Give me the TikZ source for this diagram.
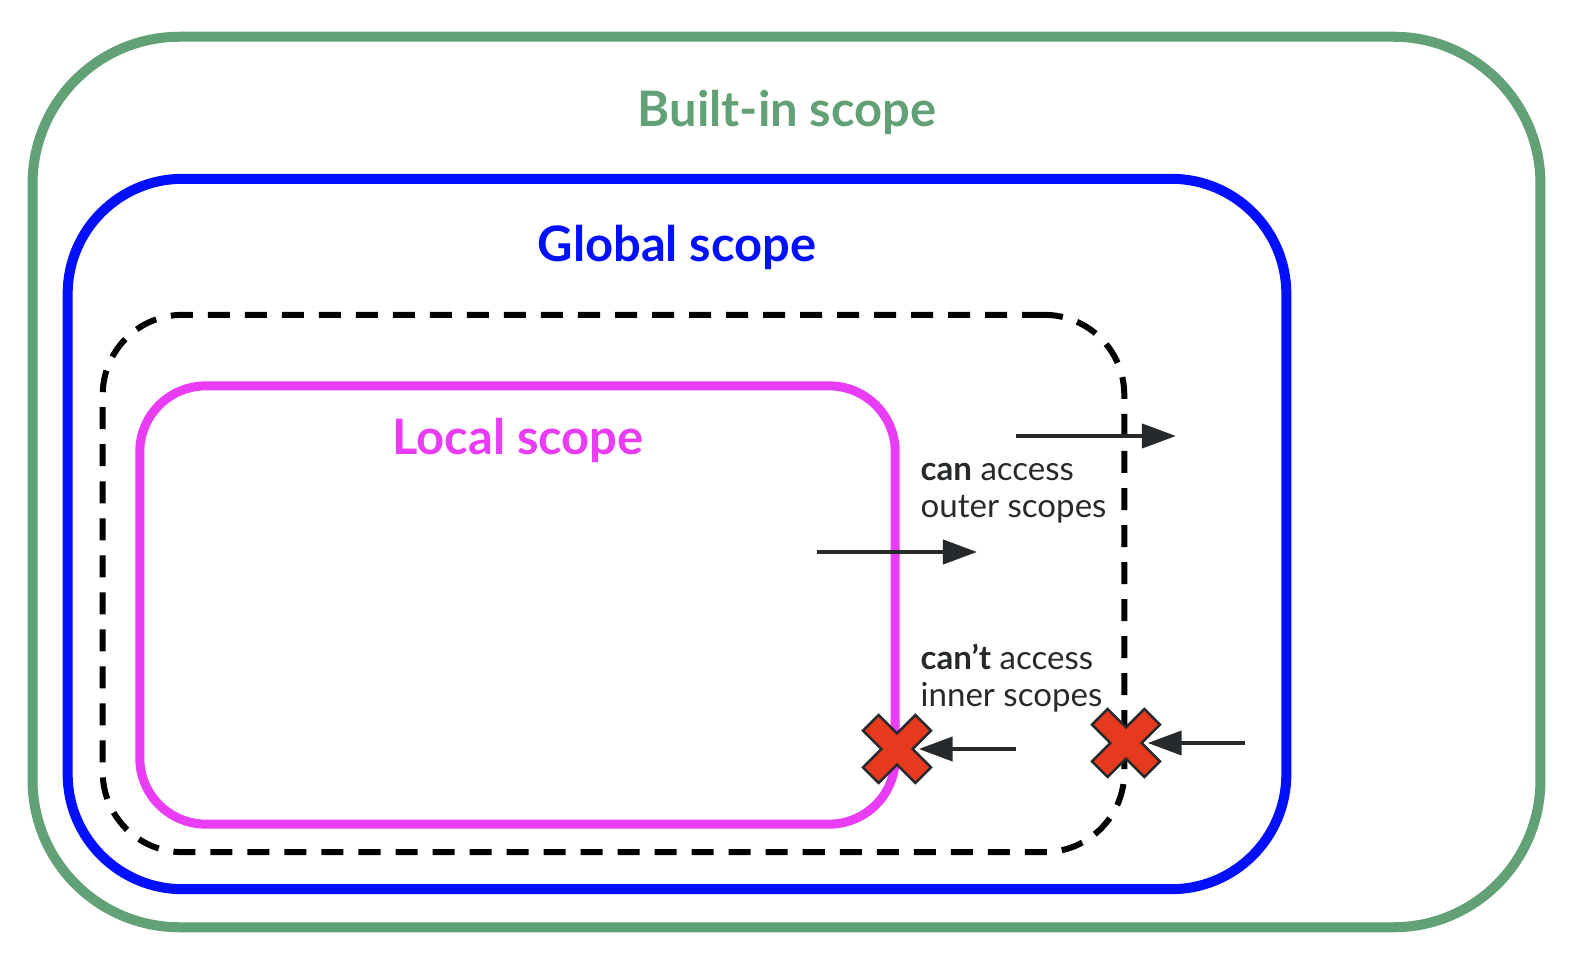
\documentclass[tikz,border=0pt]{standalone}
\usepackage{fontspec}
\setmainfont{Lato}
\usetikzlibrary{positioning,arrows.meta}
\definecolor{builtin}{RGB}{98,160,117}
\definecolor{global}{RGB}{0,16,255}
\definecolor{local}{RGB}{233,60,245}
\definecolor{xred}{RGB}{230,58,30}
\definecolor{dark}{RGB}{38,42,44}
\tikzset{
scopebox/.style={
rectangle,
inner sep=0pt},
title/.style={
font={\fontsize{13.9pt}{16pt}\selectfont\bfseries},inner sep=0pt},
note/.style={
font={\fontsize{9.4pt}{10.5pt}\selectfont},text=dark,align=left,inner sep=0pt},
arr/.style={-{Triangle[length=0.34cm,width=0.24cm]},draw=dark,line width=0.04cm},
xmark/.style={circle,minimum size=0.42cm,inner sep=0pt},
xcross/.pic={
\draw[fill=xred,draw=dark,line width=0.025cm,rotate=45,line join=miter]
(37,11) -- (11,11) -- (11,37) -- (-11,37) -- (-11,11) -- (-37,11) -- (-37,-11) -- (-11,-11) -- (-11,-37) -- (11,-37) -- (11,-11) -- (37,-11) -- cycle;}
}

\begin{document}
\begin{tikzpicture}[x=0.01cm,y=-0.01cm]
  \useasboundingbox (0,0) rectangle (1572,970);
  \node[scopebox, draw=builtin, line width=0.1cm, minimum width=15.07cm, minimum height=8.9cm, rounded corners=1.47cm] (builtin) at (786.5,482) {};
  \node[scopebox, draw=global, line width=0.1cm, minimum width=12.18cm, minimum height=7.1cm, rounded corners=1.15cm] (global) at (677,534) {};
  \node[scopebox, draw=black, dashed, dash pattern=on 0.22cm off 0.15cm, line width=0.06cm, minimum width=10.21cm, minimum height=5.37cm, rounded corners=0.8cm] (enclosing) at (613.5,583.5) {};
  \node[scopebox, draw=local, line width=0.09cm, minimum width=7.55cm, minimum height=4.38cm, rounded corners=0.66cm] (local) at (517.5,605) {};
  \node[title, text=builtin, anchor=base] (builtinlabel) at (787,127) {Built-in scope};
  \node[title, text=global, anchor=base] (globallabel) at (677,262) {Global scope};
  \node[title, text=local, anchor=base] (locallabel) at (518,454) {Local scope};
  % can access
  \coordinate (outerstart) at (1016,436);
  \coordinate (outerend) at (1176,436);
  \coordinate (innerstart) at (817,552);
  \coordinate (innerend) at (977,552);
  \draw[arr] (outerstart) -- (outerend);
  \draw[arr] (innerstart) -- (innerend);
  \node[note, anchor=base west] (can) at (920,517) {\textbf{can} access\\outer scopes};
  % can't access
  \node[note, anchor=base west] (cant) at (920,706) {\textbf{can’t} access\\inner scopes};
  \node[xmark] (xlocal) at (897,749) {};
  \node[xmark] (xenclosing) at (1126,743) {};
  \pic at (xlocal) {xcross};
  \pic at (xenclosing) {xcross};
  \coordinate (fromenclosing) at (1016,749);
  \coordinate (fromglobal) at (1245,743);
  \draw[arr] (fromenclosing) -- (xlocal);
  \draw[arr] (fromglobal) -- (xenclosing);
\end{tikzpicture}
\end{document}
